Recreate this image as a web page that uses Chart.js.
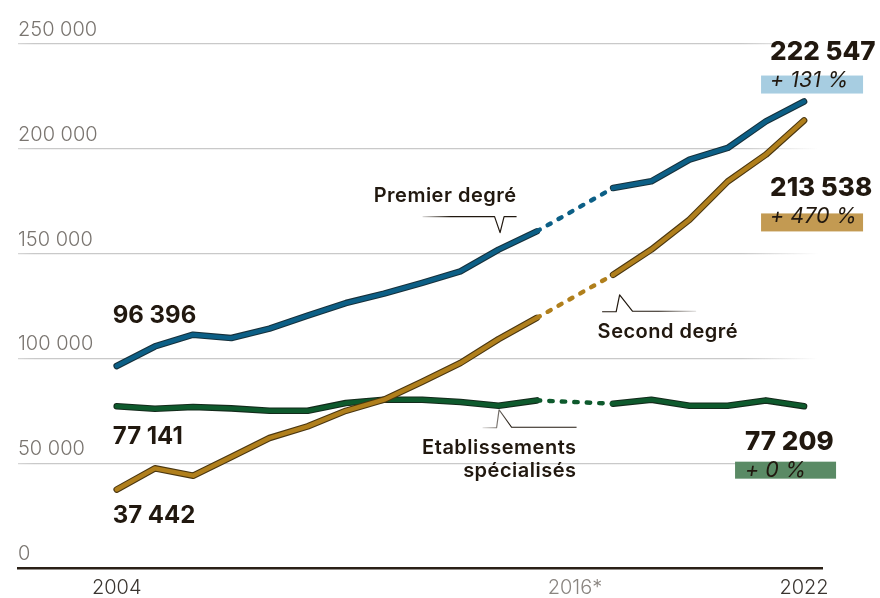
<!DOCTYPE html>
<html>
<head>
<meta charset="utf-8">
<script src="https://cdn.jsdelivr.net/npm/chart.js@4.4.1/dist/chart.umd.min.js"></script>
<style>
 html, body { margin: 0; background: #fff; }
 #wrap { width: 880px; height: 598px; position: relative; }
</style>
</head>
<body>
<div id="wrap"><canvas id="c"></canvas></div>
<script>
// data (2016 missing -> dotted link)
const years = [2004, 2005, 2006, 2007, 2008, 2009, 2010, 2011, 2012, 2013, 2014, 2015, 2016, 2017, 2018, 2019, 2020, 2021, 2022];
const premier = [96396, 105700, 111300, 109700, 114200, 120400, 126400, 130900, 136000, 141500, 151900, 160600, null, 181300, 184500, 194800, 200400, 213100, 222547];
const second = [37442, 47550, 44040, 52960, 62020, 67560, 75000, 80300, 88900, 97800, 109200, 119300, null, 139900, 151900, 166200, 184400, 197200, 213538];
const etab = [77141, 76000, 76800, 76150, 75050, 75000, 78700, 80300, 80300, 79200, 77400, 79960, null, 78400, 80300, 77400, 77400, 79960, 77209];
const xTickYears = [2004, 2016, 2022];
const xTickLabels = ['2004', '2016*', '2022'];
const yTicks = [0, 50000, 100000, 150000, 200000, 250000];

const INK = '#21180f';
const FONT = 'Inter, "Noto Sans", sans-serif';

function fmt(v) { return String(v).replace(/\B(?=(\d{3})+(?!\d))/g, ' '); }
function pct(a, b) { return '+ ' + Math.round((b / a - 1) * 100) + ' %'; }
function pts(vals) { return years.map((y, i) => ({x: y, y: vals[i]})); }

function colourLine(vals, color) {
 return {
  data: pts(vals), borderColor: color, borderWidth: 4.4, spanGaps: true,
  borderCapStyle: 'round', borderJoinStyle: 'round', pointRadius: 0,
  segment: { borderDash: c => (c.p0.skip || c.p1.skip) ? [3.5, 9] : undefined }
 };
}
function outline(vals, color) {
 return {
  data: pts(vals), borderColor: color, borderWidth: 6.6, spanGaps: false,
  borderCapStyle: 'round', borderJoinStyle: 'round', pointRadius: 0
 };
}

// fading grid lines
function gridColour(c) {
 if (c.tick && c.tick.value === 0) return 'rgba(0,0,0,0)';
 const ca = c.chart.chartArea;
 if (!ca) return '#cfcfcf';
 const g = c.chart.ctx.createLinearGradient(ca.left, 0, ca.right, 0);
 g.addColorStop(0, '#d6d6d6');
 g.addColorStop(0.02, '#c9c9c9');
 g.addColorStop(0.9, '#c9c9c9');
 g.addColorStop(0.995, 'rgba(201,201,201,0)');
 return g;
}

function callout(ctx, pts, fadeLeft) {
 const xs = pts.map(p => p[0]);
 const g = ctx.createLinearGradient(Math.min(...xs), 0, Math.max(...xs), 0);
 if (fadeLeft) { g.addColorStop(0, 'rgba(33,24,15,0.15)'); g.addColorStop(0.3, INK); g.addColorStop(1, INK); }
 else { g.addColorStop(0, INK); g.addColorStop(0.6, INK); g.addColorStop(1, 'rgba(33,24,15,0.15)'); }
 ctx.strokeStyle = g;
 ctx.lineWidth = 1.2;
 ctx.lineJoin = 'round';
 ctx.beginPath();
 pts.forEach((p, i) => i ? ctx.lineTo(p[0], p[1]) : ctx.moveTo(p[0], p[1]));
 ctx.stroke();
}

const notes = {
 id: 'notes',
 afterDatasetsDraw(chart) {
  const {ctx, scales: {x, y}} = chart;
  const X = v => x.getPixelForValue(v), Y = v => y.getPixelForValue(v);
  const last = years.length - 1;
  ctx.save();
  ctx.fillStyle = INK;
  ctx.textBaseline = 'alphabetic';

  // start values
  ctx.font = '700 24px ' + FONT;
  ctx.textAlign = 'left';
  const x0 = X(years[0]) - 4;
  ctx.fillText(fmt(premier[0]), x0, Y(premier[0]) - 43);
  ctx.fillText(fmt(etab[0]), x0, Y(etab[0]) + 38);
  ctx.fillText(fmt(second[0]), x0, Y(second[0]) + 33);

  // end values with badges
  const xe = X(years[last]);
  const ends = [
   {v: premier, dx: -34, dy: -42, bx: -43, bt: 16, bw: 102, bh: 18, fill: '#a7cde1'},
   {v: second, dx: -34, dy: 76, bx: -43, bt: 17, bw: 102, bh: 18, fill: '#c39a52'},
   {v: etab, dx: -59, dy: 43.5, bx: -69, bt: 12, bw: 101, bh: 17, fill: '#5a8a65'}
  ];
  ends.forEach(e => {
   const base = Y(e.v[last]) + e.dy;
   ctx.fillStyle = e.fill;
   ctx.fillRect(xe + e.bx, base + e.bt, e.bw, e.bh);
   ctx.fillStyle = INK;
   ctx.font = '800 26px ' + FONT;
   ctx.fillText(fmt(e.v[last]), xe + e.dx, base);
   ctx.font = 'italic 400 21.5px ' + FONT;
   ctx.fillText(pct(e.v[0], e.v[last]), xe + e.dx, base + 27);
  });

  // series labels with callouts
  ctx.font = '600 20px ' + FONT;
  ctx.letterSpacing = '0.5px';
  const i14 = years.indexOf(2014), i17 = years.indexOf(2017);
  let ax = X(2014), ay = Y(premier[i14]);
  callout(ctx, [[ax - 76, ay - 33], [ax - 4, ay - 33], [ax + 1.5, ay - 17], [ax + 5.5, ay - 33], [ax + 18, ay - 33]], true);
  ctx.textAlign = 'right';
  ctx.fillText('Premier degré', ax + 18, ay - 48);

  ax = X(2017); ay = Y(second[i17]);
  callout(ctx, [[ax - 11, ay + 37], [ax + 3, ay + 37], [ax + 6.5, ay + 20], [ax + 19.5, ay + 36.5], [ax + 83, ay + 36.5]], false);
  ctx.textAlign = 'left';
  ctx.fillText('Second degré', ax - 15.5, ay + 63);

  ax = X(2014); ay = Y(etab[i14]);
  callout(ctx, [[ax - 16, ay + 22], [ax - 2, ay + 22], [ax + 0.5, ay + 4], [ax + 13, ay + 21.5], [ax + 78, ay + 21.5]], true);
  ctx.textAlign = 'right';
  ctx.fillText('Etablissements', ax + 78, ay + 48);
  ctx.fillText('spécialisés', ax + 78, ay + 71);
  ctx.restore();
 }
};

new Chart(document.getElementById('c'), {
 type: 'line',
 data: {
  datasets: [
   colourLine(premier, '#0c5f86'), outline(premier, '#16303b'),
   colourLine(second, '#b07f1c'), outline(second, '#4a3610'),
   colourLine(etab, '#0e5a2d'), outline(etab, '#132a1b')
  ]
 },
 options: {
  responsive: true, maintainAspectRatio: false, animation: false, devicePixelRatio: 1,
  layout: { padding: { left: 18, right: 58, top: 44, bottom: 0 } },
  plugins: { legend: { display: false }, tooltip: { enabled: false } },
  scales: {
   x: {
    type: 'linear', min: 2001.415, max: 2022.47,
    afterBuildTicks: s => { s.ticks = xTickYears.map(v => ({value: v})); },
    afterFit: s => { s.height = 30; },
    grid: { display: false, drawTicks: false },
    border: { display: true, color: '#2a2016', width: 2.5 },
    ticks: {
     autoSkip: false, maxRotation: 0, padding: 8,
     callback: v => xTickLabels[xTickYears.indexOf(v)],
     color: c => c.tick.value === 2016 ? '#8a8580' : '#3a3530',
     font: { family: FONT, size: 20, weight: '300' }
    }
   },
   y: {
    min: 0, max: 250000,
    afterBuildTicks: s => { s.ticks = yTicks.map(v => ({value: v})); },
    afterFit: s => { s.width = 0; },
    grid: { color: gridColour, lineWidth: 1.3, drawTicks: false },
    border: { display: false },
    ticks: {
     mirror: true, padding: 0, labelOffset: -14,
     callback: v => fmt(v), color: '#7a7570',
     font: { family: FONT, size: 20, weight: '300' }
    }
   }
  }
 },
 plugins: [notes]
});
</script>
</body>
</html>
